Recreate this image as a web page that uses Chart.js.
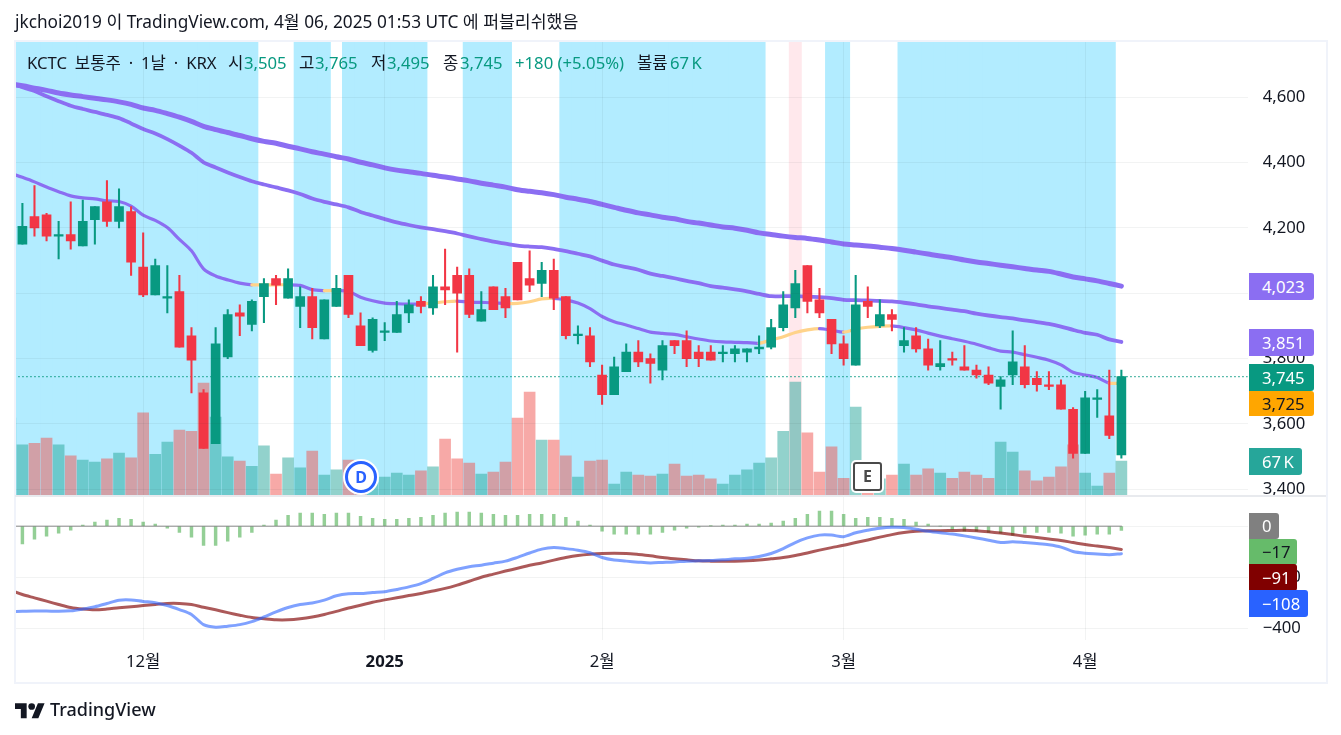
<!DOCTYPE html>
<html lang="ko">
<head>
<meta charset="utf-8">
<title>KCTC 보통주</title>
<script src="https://cdn.jsdelivr.net/npm/chart.js@4/dist/chart.umd.min.js"></script>
<style>
    html, body { margin: 0; padding: 0; background: #fff; }
    body { width: 1341px; height: 735px; position: relative; overflow: hidden;
           font-family: "Noto Sans", "Noto Sans CJK KR", sans-serif; color: #131722; }
    canvas { position: absolute; left: 0; top: 0; }
    .txt { position: absolute; white-space: nowrap; line-height: 20px; }
    .lg { top: 53px; font-size: 16.7px; }
    .up { color: #089981; }
    #frame { position: absolute; left: 14px; top: 40px; width: 1310px; height: 640px; border: 2px solid #f0f3fa; pointer-events: none; }
    #split { position: absolute; left: 15px; top: 495px; width: 1311px; height: 2px; background: #e8eaee; }
    .badge { position: absolute; left: 1249px; height: 27px; line-height: 27px; font-size: 16.7px; border-radius: 0 3px 3px 0; box-sizing: border-box; padding-left: 13px; word-spacing: -2px; }
    #markD { position: absolute; left: 345px; top: 461px; width: 26px; height: 26px; border: 3px solid #2962ff; border-radius: 50%; background: #fff; box-shadow: 0 0 0 2px #fff; color: #2962ff; font-weight: 700; font-size: 16px; line-height: 26px; text-align: center; }
    #markE { position: absolute; left: 853px; top: 462px; width: 25px; height: 25px; border: 2px solid #4a4a4a; border-radius: 3px; background: #fff; box-shadow: 0 0 0 2px #fff; color: #4a4a4a; font-weight: 700; font-size: 16px; line-height: 25px; text-align: center; }
</style>
</head>
<body>
<canvas id="chart" width="1341" height="735"></canvas>
<div id="frame"></div>
<div id="split"></div>

<div class="txt" style="left:15px;top:12px;font-size:17.25px">jkchoi2019 이 TradingView.com, 4월 06, 2025 01:53 UTC 에 퍼블리쉬했음</div>

<div class="txt lg" style="left:27px;word-spacing:3.5px">KCTC 보통주 · 1날 · KRX</div>
<div class="txt lg" style="left:228px">시</div><div class="txt lg up" style="left:244px">3,505</div>
<div class="txt lg" style="left:299px">고</div><div class="txt lg up" style="left:315px">3,765</div>
<div class="txt lg" style="left:371px">저</div><div class="txt lg up" style="left:387px">3,495</div>
<div class="txt lg" style="left:443px">종</div><div class="txt lg up" style="left:460px">3,745</div>
<div class="txt lg up" style="left:515px">+180 (+5.05%)</div>
<div class="txt lg" style="left:637px">볼륨</div><div class="txt lg up" style="left:670px;word-spacing:-2px">67 K</div>

<div class="badge" style="top:273px;width:65px;background:#8b6ef2;color:#fff">4,023</div>
<div class="badge" style="top:329px;width:65px;background:#8b6ef2;color:#fff">3,851</div>
<div class="badge" style="top:364px;width:65px;background:#089981;color:#fff">3,745</div>
<div class="badge" style="top:391px;width:65px;height:25px;line-height:25px;background:#ffa600;color:#131722">3,725</div>
<div class="badge" style="top:448px;width:53px;background:#26a69a;color:#fff">67 K</div>
<div class="badge" style="top:513px;width:30px;height:26px;line-height:26px;background:#808080;color:#fff">0</div>
<div class="badge" style="top:539px;width:48px;height:26px;line-height:26px;background:#66bb6a;color:#131722">−17</div>
<div class="badge" style="top:564px;width:48px;background:#800000;color:#fff">−91</div>
<div class="badge" style="top:590px;width:59px;background:#2962ff;color:#fff">−108</div>

<div id="markD">D</div>
<div id="markE">E</div>

<svg style="position:absolute;left:15px;top:697px" width="30" height="24" viewBox="0 0 36 28" fill="#131722">
    <path d="M14 25H7V14H0V7h14v18zM28 25h-8l7.5-18h8L28 25z"/><circle cx="20" cy="11" r="4"/>
</svg>
<div class="txt" style="left:50px;top:699px;font-size:18px;font-weight:500">TradingView</div>

<script>
// daily candles, index 0 is the first bar on screen
const opens  = [4150,4235,4240,4175,4180,4145,4225,4280,4220,4250,4080,3995,3985,4005,3870,3695,3540,3805,3940,3905,3990,4045,3985,3960,3990,3860,3960,4055,3900,3825,3880,3880,3940,3975,3955,4020,4055,4055,3915,4020,3990,4095,4045,4030,4070,3990,3870,3870,3750,3690,3760,3820,3800,3765,3855,3855,3820,3820,3815,3815,3820,3830,3835,3895,3955,4085,3980,3920,3845,3780,3975,3900,3935,3840,3870,3830,3775,3800,3775,3765,3750,3715,3750,3775,3740,3720,3720,3645,3510,3675,3625,3505];
const highs  = [4275,4330,4245,4220,4280,4285,4265,4345,4320,4265,4185,4105,4085,4055,3895,3705,3895,3950,3965,3980,4045,4055,4075,4020,4015,3980,4055,4055,3940,3925,3910,3975,3980,3990,4055,4135,4080,4075,4005,4020,4015,4095,4130,4095,4105,3990,3900,3895,3780,3805,3845,3855,3815,3855,3855,3885,3840,3840,3840,3840,3830,3870,3920,4005,4070,4085,4015,3920,3870,4055,4020,3980,3950,3895,3895,3860,3855,3820,3840,3780,3775,3745,3885,3840,3760,3760,3735,3650,3700,3705,3765,3765];
const lows   = [4150,4175,4160,4105,4135,4145,4150,4205,4200,4055,3990,3995,3940,3835,3695,3525,3540,3800,3870,3885,3910,3965,3985,3895,3860,3860,3960,3925,3840,3820,3855,3880,3910,3940,3935,3965,3820,3925,3915,3950,3925,3980,4005,3990,3950,3860,3845,3775,3660,3690,3760,3775,3725,3735,3815,3775,3775,3795,3790,3790,3790,3815,3830,3885,3925,3940,3925,3815,3780,3780,3925,3895,3885,3820,3820,3765,3765,3780,3765,3740,3720,3645,3720,3710,3700,3705,3645,3495,3510,3620,3555,3495];
const closes = [4205,4200,4175,4180,4160,4220,4265,4220,4265,4095,3995,4085,3990,3835,3795,3525,3845,3935,3930,3975,4030,4025,4045,3990,3895,3980,4015,3935,3840,3920,3885,3935,3965,3960,4020,4010,4000,3935,3950,3950,3955,3980,4025,4070,3985,3870,3875,3790,3690,3775,3820,3790,3785,3840,3840,3800,3800,3795,3820,3830,3830,3835,3895,3965,4030,3975,3940,3845,3800,3965,3960,3935,3920,3855,3830,3780,3785,3795,3765,3750,3725,3735,3790,3720,3720,3715,3645,3510,3680,3680,3565,3745];

// volume in thousands, starts one bar left of the first candle
const volumes = [149,98,101,111,98,77,69,65,71,82,73,159,80,103,126,124,216,151,75,67,57,96,42,73,54,86,40,50,69,30,25,36,44,40,48,56,109,71,63,42,46,65,149,199,107,107,77,36,67,69,23,46,40,38,42,61,38,40,33,23,40,50,63,73,124,218,121,46,94,34,170,8,33,40,61,40,52,44,34,46,40,34,103,84,48,29,36,56,98,44,19,44,67];

// moving averages, same start as volumes
const maLong = [4641,4635,4628,4621,4613,4607,4602,4597,4592,4586,4578,4567,4560,4550,4539,4526,4511,4501,4492,4483,4473,4465,4459,4450,4442,4433,4426,4418,4411,4401,4393,4384,4377,4372,4367,4361,4356,4350,4344,4337,4331,4325,4317,4312,4308,4302,4294,4288,4281,4272,4263,4254,4246,4240,4233,4228,4220,4215,4209,4203,4199,4193,4185,4180,4175,4171,4168,4163,4157,4151,4148,4145,4141,4137,4132,4126,4120,4114,4109,4102,4096,4091,4086,4081,4076,4071,4067,4059,4050,4044,4038,4030,4022];
const maMid = [4641,4631,4619,4603,4588,4574,4564,4555,4546,4536,4520,4503,4489,4472,4452,4430,4401,4385,4370,4356,4343,4333,4324,4315,4304,4290,4280,4272,4263,4249,4238,4227,4217,4209,4202,4196,4190,4183,4174,4166,4158,4152,4146,4143,4141,4136,4129,4121,4113,4100,4088,4080,4072,4060,4053,4046,4038,4031,4022,4017,4012,4006,3998,3991,3991,3991,3990,3988,3985,3980,3979,3978,3977,3975,3971,3966,3960,3955,3950,3945,3938,3932,3927,3923,3917,3912,3906,3898,3888,3879,3873,3859,3851];
const maShort = [4368,4355,4341,4325,4311,4298,4292,4289,4283,4281,4267,4239,4223,4201,4165,4130,4075,4053,4041,4031,4026,4026,4026,4026,4024,4011,4008,4008,4006,3988,3977,3970,3968,3967,3967,3970,3974,3976,3973,3972,3971,3969,3969,3974,3983,3984,3980,3970,3953,3929,3913,3903,3892,3881,3877,3874,3867,3860,3854,3851,3850,3849,3847,3857,3867,3880,3888,3892,3887,3881,3890,3896,3899,3900,3895,3888,3878,3869,3861,3853,3844,3833,3823,3820,3812,3804,3795,3781,3758,3750,3742,3725,3725];

// macd pane, same start as volumes except histogram
const macdLine = [-335,-334,-333,-333,-334,-332,-325,-316,-303,-290,-289,-295,-300,-311,-327,-346,-386,-396,-392,-386,-374,-356,-336,-319,-307,-301,-290,-273,-265,-264,-260,-257,-248,-238,-225,-205,-183,-169,-159,-153,-145,-137,-122,-105,-90,-84,-88,-94,-104,-123,-133,-137,-141,-144,-142,-140,-137,-136,-135,-132,-128,-126,-119,-107,-88,-64,-46,-35,-35,-41,-26,-16,-8,-4,-5,-12,-20,-26,-31,-38,-46,-55,-64,-61,-64,-68,-73,-82,-99,-106,-109,-112,-108];
const signalLine = [-251,-268,-281,-294,-307,-319,-325,-328,-325,-320,-316,-311,-307,-303,-303,-307,-318,-328,-339,-349,-358,-363,-367,-367,-363,-356,-346,-334,-321,-310,-298,-289,-281,-272,-264,-254,-244,-231,-216,-200,-188,-176,-165,-153,-144,-133,-123,-115,-110,-107,-106,-107,-111,-116,-123,-128,-132,-136,-137,-137,-137,-136,-133,-128,-123,-115,-105,-94,-84,-75,-64,-54,-43,-33,-25,-20,-18,-18,-17,-16,-18,-22,-27,-33,-39,-44,-50,-56,-64,-72,-78,-84,-91];
const histogram = [-70,-51,-39,-27,-16,4,16,24,31,27,16,8,-8,-24,-43,-75,-75,-59,-43,-24,4,24,43,51,51,47,51,51,39,31,27,27,31,35,43,51,55,55,51,47,43,43,47,47,47,35,20,4,-20,-31,-31,-31,-31,-24,-16,-8,-4,1,4,4,8,8,12,20,31,47,59,59,47,31,35,35,31,27,16,8,0,-12,-20,-20,-24,-27,-35,-27,-24,-24,-27,-39,-35,-31,-31,-17];

// background zones as first/last bar
const blueZones = [[0,19],[23,25],[27,33],[37,40],[45,61],[67,68],[73,90]];
const pinkZones = [[64,64]];

const lastClose = 3745;
const priceTicks = [3400,3600,3800,4000,4200,4400,4600];
const macdTicks = [0,-200,-400];
const monthIdx = [10,30,48,68,88];
const monthLabels = ['12월','2025','2월','3월','4월'];

const UP = '#089981';
const DOWN = '#f23645';
const PURPLE = '#8b6ef2';
const ORANGE = '#ffd38a';
const FONT = '"Noto Sans", "Noto Sans CJK KR", sans-serif';
const GRID = 'rgba(42,46,57,0.06)';

const PRICE_MIN = 3379.5, PRICE_MAX = 4772.2;

function inZones(zones, i) {
    return zones.some(z => i >= z[0] && i <= z[1]);
}

const candleIdx = closes.map((c, i) => i);
const candleColors = closes.map((c, i) => c >= opens[i] ? UP : DOWN);
const volumeColors = volumes.map((v, i) => {
    const up = i === 0 || closes[i - 1] >= opens[i - 1];
    return up ? 'rgba(38,166,154,0.5)' : 'rgba(239,83,80,0.5)';
});
const zoneColors = candleIdx.map(i => inZones(blueZones, i) ? '#b2ecff' : inZones(pinkZones, i) ? '#ffe8ec' : 'rgba(0,0,0,0)');

// arrays that start one bar before the first candle
const fromMinusOne = arr => arr.map((v, i) => ({ x: i - 1, y: v }));
const fromZero = arr => arr.map((v, i) => ({ x: i, y: v }));

function lineDataset(label, data, color, width, axis, order) {
    return {
        type: 'line', label, data, yAxisID: axis, order,
        borderColor: color, borderWidth: width,
        pointRadius: 0, tension: 0.3, borderCapStyle: 'round', borderJoinStyle: 'round'
    };
}

const datasets = [
    {
        label: 'zones', yAxisID: 'y', order: 20, barThickness: 12.3,
        data: candleIdx.map(i => ({ x: i, y: [PRICE_MIN, PRICE_MAX] })),
        backgroundColor: zoneColors
    },
    {
        label: 'volume', yAxisID: 'yVol', order: 15, barThickness: 11,
        data: fromMinusOne(volumes), backgroundColor: volumeColors
    },
    lineDataset('maLong', fromMinusOne(maLong), PURPLE, 5, 'y', 12),
    lineDataset('maMid', fromMinusOne(maMid), PURPLE, 3.8, 'y', 11),
    {
        ...lineDataset('maShort', fromMinusOne(maShort), PURPLE, 3.2, 'y', 10),
        segment: {
            borderColor: ctx => {
                const i = ctx.p1.parsed.x;
                return inZones(blueZones, i) ? PURPLE : ORANGE;
            }
        }
    },
    {
        type: 'line', label: 'last', yAxisID: 'y', order: 5,
        data: [{ x: -1, y: lastClose }, { x: 102, y: lastClose }],
        borderColor: UP, borderWidth: 1.3, borderDash: [1.3, 2.7], pointRadius: 0
    },
    {
        label: 'wick', yAxisID: 'y', order: 2, barThickness: 1.4,
        data: candleIdx.map(i => ({ x: i, y: [lows[i], highs[i]] })),
        backgroundColor: candleColors
    },
    {
        label: 'body', yAxisID: 'y', order: 1, barThickness: 9,
        data: candleIdx.map(i => ({ x: i, y: [opens[i], closes[i]] })),
        backgroundColor: candleColors
    },
    {
        label: 'histogram', yAxisID: 'yMacd', order: 9, barThickness: 2.8,
        data: fromZero(histogram), backgroundColor: 'rgba(76,175,80,0.6)'
    },
    lineDataset('zero', fromMinusOne(macdLine.map(() => 0)), 'rgba(128,128,128,0.6)', 1.6, 'yMacd', 8),
    lineDataset('signal', fromMinusOne(signalLine), 'rgba(128,0,0,0.65)', 3, 'yMacd', 7),
    lineDataset('macd', fromMinusOne(macdLine), 'rgba(41,98,255,0.6)', 3, 'yMacd', 6)
];

function monthFont(ctx) {
    const bold = ctx.tick && monthLabels[monthIdx.indexOf(ctx.tick.value)] === '2025';
    return { family: FONT, size: 16.7, weight: bold ? '700' : '400' };
}

new Chart(document.getElementById('chart').getContext('2d'), {
    type: 'bar',
    data: { datasets },
    options: {
        responsive: false,
        animation: false,
        devicePixelRatio: 1,
        datasets: { bar: { grouped: false, borderSkipped: false, borderWidth: 0 } },
        layout: { padding: { left: 15, right: 15, top: 41, bottom: 53 } },
        plugins: { legend: { display: false }, tooltip: { enabled: false } },
        scales: {
            x: {
                type: 'linear', min: -0.613, max: 101.46, bounds: 'data', offset: false,
                grid: { color: GRID, offset: false, drawTicks: false, z: 1 },
                border: { display: false },
                afterBuildTicks: axis => { axis.ticks = monthIdx.map(v => ({ value: v })); },
                afterFit: axis => { axis.height = 42; },
                ticks: {
                    autoSkip: false, maxRotation: 0, padding: 12, color: '#131722',
                    font: monthFont,
                    callback: v => monthLabels[monthIdx.indexOf(v)]
                }
            },
            y: {
                type: 'linear', position: 'right', stack: 'panes', stackWeight: 455, weight: 1,
                min: PRICE_MIN, max: PRICE_MAX, bounds: 'data',
                grid: { color: GRID, drawTicks: false, z: 1 },
                border: { display: false },
                afterBuildTicks: axis => { axis.ticks = priceTicks.map(v => ({ value: v })); },
                afterFit: axis => { axis.width = 78.3; },
                ticks: {
                    autoSkip: false, padding: 15, color: '#131722',
                    font: { family: FONT, size: 16.7 },
                    callback: v => v.toLocaleString('en-US')
                }
            },
            yMacd: {
                type: 'linear', position: 'right', stack: 'panes', stackWeight: 144, weight: 2,
                min: -446.3, max: 118.4, bounds: 'data',
                grid: { color: GRID, drawTicks: false, z: 1 },
                border: { display: false },
                afterBuildTicks: axis => { axis.ticks = macdTicks.map(v => ({ value: v })); },
                afterFit: axis => { axis.width = 78.3; },
                ticks: {
                    autoSkip: false, padding: 15, color: '#131722',
                    font: { family: FONT, size: 16.7 },
                    callback: v => String(v).replace('-', '−')
                }
            },
            yVol: {
                type: 'linear', display: false, position: 'left',
                min: -275.6, max: 870.9, bounds: 'data'
            }
        }
    }
});
</script>
</body>
</html>
